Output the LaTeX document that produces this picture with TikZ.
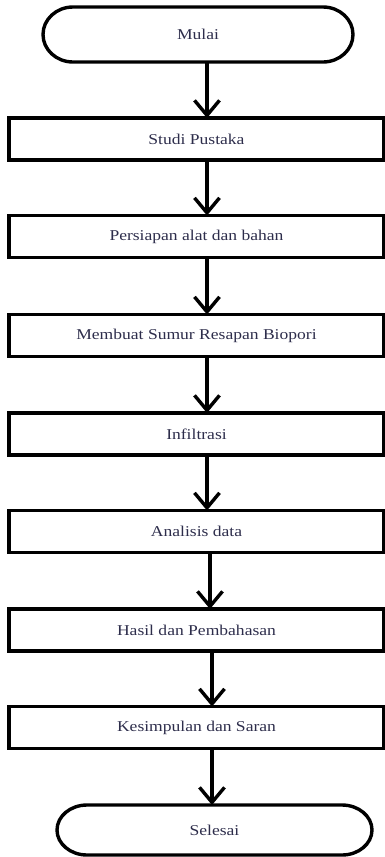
\documentclass[tikz,border=0pt]{standalone}
\usepackage{fontspec}
\usepackage{graphicx}
\setmainfont{Liberation Serif}
\usetikzlibrary{arrows.meta}
\definecolor{txt}{RGB}{45,45,75}
\newcommand{\wide}[1]{\scalebox{1.17}[1]{#1}}
\newcommand{\stadium}[3]{%
  \draw[line width=3.4pt] ([xshift=#2]#1.north west) -- ([xshift=-#2]#1.north east)
    arc[start angle=90,end angle=-90,x radius=#2,y radius=#3]
    -- ([xshift=#2]#1.south west)
    arc[start angle=270,end angle=90,x radius=#2,y radius=#3] -- cycle;}
\tikzset{
  box/.style={draw=black, line width=3.4pt, minimum width=375pt, minimum height=42pt,
    inner sep=0pt, outer sep=0pt, font=\fontsize{15}{18}\selectfont, text=txt},
  term/.style={inner sep=0pt, outer sep=0pt, font=\fontsize{15}{18}\selectfont, text=txt},
  arr/.style={line width=3.4pt, -{Straight Barb[length=15pt,width=25pt,line width=3.4pt]}},
}
\begin{document}
\begin{tikzpicture}[x=1pt,y=-1pt]
\useasboundingbox (0,0) rectangle (385,857);
\node[term, minimum width=310pt, minimum height=55pt] (mulai) at (198,34.5) {\wide{Mulai}};
\stadium{mulai}{30pt}{27.5pt}
\node[box] (studi) at (196.5,139) {\wide{Studi  Pustaka}};
\node[box] (persiapan) at (196.5,236.5) {\wide{Persiapan alat dan bahan}};
\node[box] (membuat) at (196.5,335.5) {\wide{Membuat Sumur Resapan Biopori}};
\node[box] (infil) at (196.5,434) {\wide{Infiltrasi}};
\node[box] (analisis) at (196.5,531.5) {\wide{Analisis data}};
\node[box] (hasil) at (196.5,630) {\wide{Hasil  dan Pembahasan}};
\node[box] (kesimpulan) at (196.5,727.5) {\wide{Kesimpulan dan Saran}};
\node[term, minimum width=315pt, minimum height=50pt] (selesai) at (214.5,830) {\wide{Selesai}};
\stadium{selesai}{30pt}{25pt}
\draw[arr] ([xshift=9pt]mulai.south) -- ([xshift=10.5pt]studi.north);
\draw[arr] ([xshift=10.5pt]studi.south) -- ([xshift=10.5pt]persiapan.north);
\draw[arr] ([xshift=10.5pt]persiapan.south) -- ([xshift=10.5pt]membuat.north);
\draw[arr] ([xshift=10.5pt]membuat.south) -- ([xshift=10.5pt]infil.north);
\draw[arr] ([xshift=10.5pt]infil.south) -- ([xshift=10.5pt]analisis.north);
\draw[arr] ([xshift=13.5pt]analisis.south) -- ([xshift=13.5pt]hasil.north);
\draw[arr] ([xshift=15.5pt]hasil.south) -- ([xshift=15.5pt]kesimpulan.north);
\draw[arr] ([xshift=15.5pt]kesimpulan.south) -- ([xshift=-2.5pt]selesai.north);
\end{tikzpicture}
\end{document}
